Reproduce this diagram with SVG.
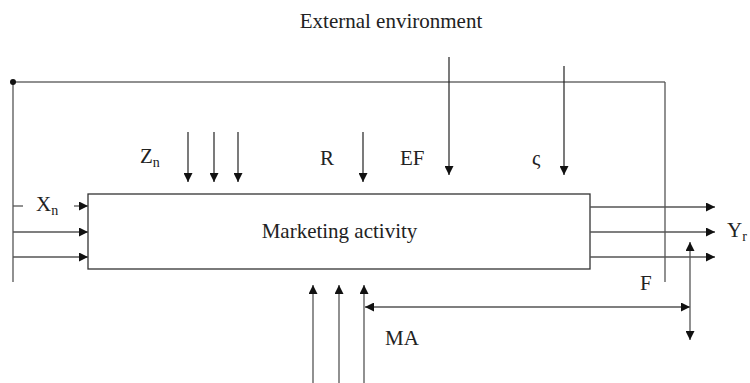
<svg xmlns="http://www.w3.org/2000/svg" width="750" height="383" viewBox="0 0 750 383">
<defs>
<marker id="ah" viewBox="0 0 10 10" refX="10" refY="5" markerWidth="10" markerHeight="9" markerUnits="userSpaceOnUse" orient="auto-start-reverse">
<path d="M0,0 L10,5 L0,10 z" fill="#111"/>
</marker>
<style>
.ln{stroke:#555;stroke-width:1.3;fill:none}
.dk{stroke:#222;stroke-width:1.2;fill:none}
.ar{marker-end:url(#ah)}
.s{font-size:14px}
</style>
</defs>
<rect width="750" height="383" fill="#fff"/>
<g id="texts" font-family="Liberation Serif, DejaVu Serif, serif" font-size="21" fill="#222">
<text x="391" y="28" text-anchor="middle">External environment</text>
<text x="140" y="163">Z<tspan class="s" dy="4">n</tspan></text>
<text x="320" y="165">R</text>
<text x="400" y="165">EF</text>
<text x="532" y="165">ς</text>
<text x="36" y="211">X<tspan class="s" dy="4">n</tspan></text>
<text x="727" y="237">Y<tspan class="s" dy="4">r</tspan></text>
<text x="640" y="290">F</text>
<text x="385" y="345">MA</text>
</g>
<g id="box">
<rect x="88" y="194" width="502" height="75" fill="#fff" stroke="#333" stroke-width="1.3"/>
<text x="339.5" y="238" text-anchor="middle" font-family="Liberation Serif, DejaVu Serif, serif" font-size="21" fill="#222">Marketing activity</text>
</g>
<g id="connectors">
<path class="dk" d="M13,82 H665"/>
<path class="ln" d="M665,82 V282"/>
<path class="ln" d="M13,82 V282"/>
<circle cx="13" cy="82" r="3" fill="#111"/>
<path class="ln" d="M13,206 H23"/>
<path class="ln ar" d="M74,206 H88"/>
<path class="ln ar" d="M13,232 H88"/>
<path class="ln ar" d="M13,257 H88"/>
<path class="ln ar" d="M590,207 H715"/>
<path class="ln ar" d="M590,232 H715"/>
<path class="ln ar" d="M590,257 H715"/>
<path class="dk ar" d="M188,132 V182"/>
<path class="dk ar" d="M214,132 V182"/>
<path class="dk ar" d="M238,132 V182"/>
<path class="dk ar" d="M363,132 V182"/>
<path class="dk ar" d="M449,57 V175"/>
<path class="dk ar" d="M564,66 V175"/>
<path class="ln ar" d="M313,383 V285"/>
<path class="ln ar" d="M339,383 V285"/>
<path class="ln ar" d="M364,383 V285"/>
<path class="ln" d="M365,307 H690" marker-start="url(#ah)" marker-end="url(#ah)"/>
<path class="ln" d="M690,242 V340" marker-start="url(#ah)" marker-end="url(#ah)"/>
</g>
</svg>
